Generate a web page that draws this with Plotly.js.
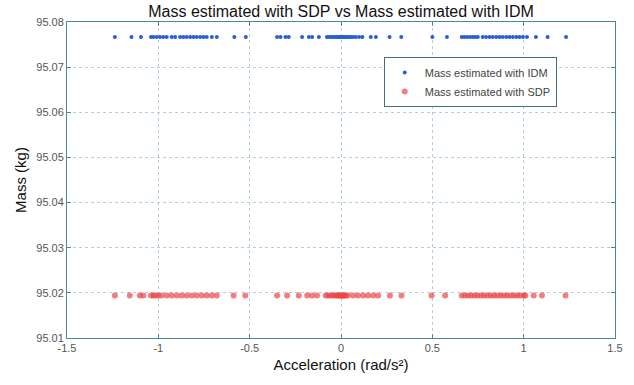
<!DOCTYPE html>
<html>
<head>
<meta charset="utf-8">
<script src="https://cdn.plot.ly/plotly-3.0.1.min.js"></script>
<style>html,body{margin:0;padding:0;background:#fff;}#chart{width:634px;height:385px;}</style>
</head>
<body>
<div id="chart"></div>
<script>
// Acceleration samples (rad/s^2)
const accIDM = [-1.238, -1.147, -1.095, -1.040, -1.027, -1.009, -0.991, -0.973, -0.954, -0.927, -0.908, -0.881, -0.863, -0.845, -0.826, -0.808, -0.790, -0.771, -0.753, -0.735, -0.707, -0.680, -0.584, -0.521, -0.350, -0.331, -0.304, -0.286, -0.213, -0.176, -0.158, -0.121, -0.077, -0.065, -0.055, -0.045, -0.035, -0.025, -0.018, -0.012, -0.006, 0.000, 0.004, 0.009, 0.014, 0.020, 0.027, 0.035, 0.045, 0.055, 0.066, 0.081, 0.099, 0.117, 0.163, 0.191, 0.266, 0.330, 0.500, 0.580, 0.661, 0.675, 0.690, 0.705, 0.720, 0.735, 0.749, 0.776, 0.794, 0.813, 0.831, 0.850, 0.868, 0.886, 0.905, 0.923, 0.941, 0.960, 0.978, 0.996, 1.018, 1.067, 1.131, 1.232];
const massIDM = [95.0767, 95.0767, 95.0767, 95.0767, 95.0767, 95.0767, 95.0767, 95.0767, 95.0767, 95.0767, 95.0767, 95.0767, 95.0767, 95.0767, 95.0767, 95.0767, 95.0767, 95.0767, 95.0767, 95.0767, 95.0767, 95.0767, 95.0767, 95.0767, 95.0767, 95.0767, 95.0767, 95.0767, 95.0767, 95.0767, 95.0767, 95.0767, 95.0767, 95.0767, 95.0767, 95.0767, 95.0767, 95.0767, 95.0767, 95.0767, 95.0767, 95.0767, 95.0767, 95.0767, 95.0767, 95.0767, 95.0767, 95.0767, 95.0767, 95.0767, 95.0767, 95.0767, 95.0767, 95.0767, 95.0767, 95.0767, 95.0767, 95.0767, 95.0767, 95.0767, 95.0767, 95.0767, 95.0767, 95.0767, 95.0767, 95.0767, 95.0767, 95.0767, 95.0767, 95.0767, 95.0767, 95.0767, 95.0767, 95.0767, 95.0767, 95.0767, 95.0767, 95.0767, 95.0767, 95.0767, 95.0767, 95.0767, 95.0767, 95.0767];
const accSDP = [-1.238, -1.156, -1.101, -1.082, -1.040, -1.027, -1.014, -1.000, -0.982, -0.954, -0.927, -0.899, -0.872, -0.845, -0.817, -0.790, -0.762, -0.735, -0.707, -0.680, -0.588, -0.524, -0.350, -0.295, -0.231, -0.185, -0.158, -0.131, -0.084, -0.070, -0.058, -0.046, -0.035, -0.025, -0.018, -0.012, -0.006, 0.000, 0.004, 0.009, 0.014, 0.020, 0.027, 0.038, 0.066, 0.093, 0.121, 0.148, 0.176, 0.203, 0.268, 0.331, 0.496, 0.570, 0.661, 0.678, 0.695, 0.712, 0.730, 0.748, 0.766, 0.784, 0.802, 0.820, 0.838, 0.856, 0.874, 0.892, 0.910, 0.928, 0.946, 0.964, 0.982, 1.000, 1.009, 1.055, 1.100, 1.229];
const massSDP = [95.0194, 95.0194, 95.0194, 95.0194, 95.0194, 95.0194, 95.0194, 95.0194, 95.0194, 95.0194, 95.0194, 95.0194, 95.0194, 95.0194, 95.0194, 95.0194, 95.0194, 95.0194, 95.0194, 95.0194, 95.0194, 95.0194, 95.0194, 95.0194, 95.0194, 95.0194, 95.0194, 95.0194, 95.0194, 95.0194, 95.0194, 95.0194, 95.0194, 95.0194, 95.0194, 95.0194, 95.0194, 95.0194, 95.0194, 95.0194, 95.0194, 95.0194, 95.0194, 95.0194, 95.0194, 95.0194, 95.0194, 95.0194, 95.0194, 95.0194, 95.0194, 95.0194, 95.0194, 95.0194, 95.0194, 95.0194, 95.0194, 95.0194, 95.0194, 95.0194, 95.0194, 95.0194, 95.0194, 95.0194, 95.0194, 95.0194, 95.0194, 95.0194, 95.0194, 95.0194, 95.0194, 95.0194, 95.0194, 95.0194, 95.0194, 95.0194, 95.0194, 95.0194];
const xTicks = [-1.5, -1, -0.5, 0, 0.5, 1, 1.5];
const xTickText = ['-1.5', '-1', '-0.5', '0', '0.5', '1', '1.5'];
const yTicks = [95.01, 95.02, 95.03, 95.04, 95.05, 95.06, 95.07, 95.08];
const yTickText = ['95.01', '95.02', '95.03', '95.04', '95.05', '95.06', '95.07', '95.08'];

const traces = [
  {x: accIDM, y: massIDM, type: 'scatter', mode: 'markers', name: 'Mass estimated with IDM',
   marker: {color: '#2a5fd4', size: 4}},
  {x: accSDP, y: massSDP, type: 'scatter', mode: 'markers', name: 'Mass estimated with SDP',
   marker: {color: 'rgba(240,70,70,0.7)', size: 6}}
];

const axisCommon = {
  showline: true, mirror: 'ticks', linecolor: '#4d8599', linewidth: 1,
  ticks: 'inside', ticklen: 4, tickcolor: '#4d8599',
  showgrid: true, gridcolor: '#b3cede', griddash: 'dot', gridwidth: 1,
  zeroline: false, tickfont: {family: 'Arial, Liberation Sans, sans-serif', size: 11, color: '#555'}
};

const layout = {
  width: 634, height: 385,
  margin: {l: 67, r: 19, t: 22, b: 47},
  paper_bgcolor: '#fff', plot_bgcolor: '#fff',
  title: {text: 'Mass estimated with SDP vs Mass estimated with IDM',
    font: {family: 'Arial, Liberation Sans, sans-serif', size: 16, color: '#111'},
    x: 0.5, xanchor: 'center', y: 0.97, yanchor: 'middle', xref: 'paper'},
  xaxis: Object.assign({}, axisCommon, {
    range: [-1.5, 1.5], tickvals: xTicks, ticktext: xTickText,
    title: {text: 'Acceleration (rad/s²)', standoff: 6,
      font: {family: 'Arial, Liberation Sans, sans-serif', size: 15, color: '#111'}}
  }),
  yaxis: Object.assign({}, axisCommon, {
    range: [95.01, 95.08], tickvals: yTicks, ticktext: yTickText,
    title: {text: 'Mass (kg)', standoff: 6,
      font: {family: 'Arial, Liberation Sans, sans-serif', size: 15, color: '#111'}}
  }),
  showlegend: true,
  legend: {x: 0.578, y: 0.889, xanchor: 'left', yanchor: 'top',
    bgcolor: '#fff', bordercolor: '#3f6f80', borderwidth: 1,
    font: {family: 'Arial, Liberation Sans, sans-serif', size: 11, color: '#444'},
    tracegroupgap: 0, itemsizing: 'trace'}
};

Plotly.newPlot('chart', traces, layout, {displayModeBar: false, staticPlot: true});
</script>
</body>
</html>
